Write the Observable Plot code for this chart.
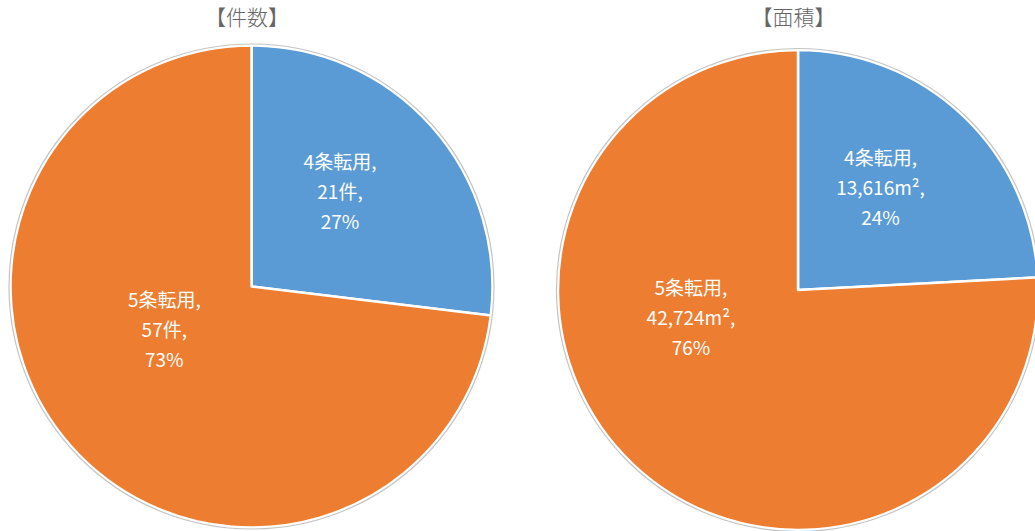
<!DOCTYPE html>
<html><head><meta charset="utf-8">
<script src="https://cdn.jsdelivr.net/npm/d3@7"></script>
<script src="https://cdn.jsdelivr.net/npm/@observablehq/plot@0.6"></script>
<style>body{margin:0;background:#fff;overflow:hidden}</style>
</head><body><div id="chart"></div>
<script>
// ---- data ----
const chartTitles = ["【件数】", "【面積】"];
const categories = ["4条転用", "5条転用"];
const countValues = [21, 57];
const areaValues = [13616, 42724];
const units = ["件", "m²"];

// ---- style / layout ----
const colors = ["#5B9BD5", "#ED7D31"];
const W = 1035, H = 531;
const centers = [[251.5, 286.5], [798, 290]];
const radii = [241, 240];
// label placement relative to slice mid-angle (degrees) and radius fraction, per chart/slice
const labelAngleShift = [[-6.4, 17], [-5.5, 33.5]];
const labelRadiusFrac = [[0.545, 0.40], [0.555, 0.46]];
const font = "'Noto Sans CJK JP', 'Noto Sans', sans-serif";

const series = [countValues, areaValues];
const fmt = [v => `${v}`, v => d3.format(",")(v)];

const slices = [];
series.forEach((vals, ci) => {
  const total = d3.sum(vals);
  const arcs = d3.pie().sort(null)(vals);
  arcs.forEach((a, si) => {
    const [cx, cy] = centers[ci];
    const r = radii[ci];
    const mid = (a.startAngle + a.endAngle) / 2 + labelAngleShift[ci][si] * Math.PI / 180;
    const k = labelRadiusFrac[ci][si] * r;
    slices.push({
      chart: chartTitles[ci],
      category: categories[si],
      value: a.value,
      startAngle: a.startAngle,
      endAngle: a.endAngle,
      cx, cy, r,
      color: colors[si],
      lx: cx + Math.sin(mid) * k,
      ly: cy - Math.cos(mid) * k,
      label: `${categories[si]},\n${fmt[ci](a.value)}${units[ci]},\n${Math.round(a.value / total * 100)}%`
    });
  });
});
const titles = chartTitles.map((t, i) => ({title: t, x: centers[i][0] - 5, y: 18}));

function pieMark(data) {
  return (index, scales) => {
    const g = d3.create("svg:g");
    for (const d of data) {
      const cx = scales.x(d.cx), cy = scales.y(d.cy);
      const r = scales.x(d.cx + d.r) - cx;
      g.append("path")
        .attr("transform", `translate(${cx},${cy})`)
        .attr("d", d3.arc().innerRadius(0).outerRadius(r)(d))
        .attr("fill", d.color)
        .attr("stroke", "white")
        .attr("stroke-width", 2.5)
        .attr("stroke-linejoin", "round");
    }
    const seen = new Set();
    for (const d of data) {
      if (seen.has(d.chart)) continue;
      seen.add(d.chart);
      const cx = scales.x(d.cx), cy = scales.y(d.cy);
      const r = scales.x(d.cx + d.r) - cx;
      g.append("circle").attr("cx", cx).attr("cy", cy).attr("r", r + 1.5)
        .attr("fill", "none").attr("stroke", "#c4c4c4").attr("stroke-width", 1.2);
    }
    return g.node();
  };
}

const chart = Plot.plot({
  width: W,
  height: H,
  margin: 0,
  style: {background: "white", fontFamily: font},
  x: {domain: [0, W], range: [0, W], axis: null},
  y: {domain: [0, H], range: [0, H], axis: null},
  marks: [
    pieMark(slices),
    Plot.text(slices, {x: "lx", y: "ly", text: "label", fill: "white", fontSize: 19, lineHeight: 1.58, fontFamily: font, fontWeight: "normal"}),
    Plot.text(titles, {x: "x", y: "y", text: "title", fill: "#666666", fontSize: 21, fontFamily: font, fontWeight: 300})
  ]
});
document.getElementById("chart").append(chart);
</script>
</body></html>
